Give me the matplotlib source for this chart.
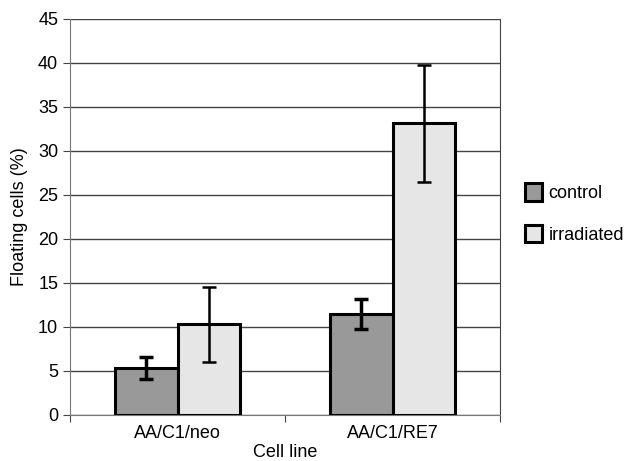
import matplotlib
matplotlib.use("Agg")
import matplotlib.pyplot as plt
import numpy as np

plt.rcParams['font.family'] = ['Liberation Sans', 'DejaVu Sans']

categories = ["AA/C1/neo", "AA/C1/RE7"]
series_names = ["control", "irradiated"]
control = [5.3, 11.5]
control_err_low = [4.1, 9.8]
control_err_high = [6.6, 13.2]
irradiated = [10.3, 33.2]
irr_err_low = [6.0, 26.5]
irr_err_high = [14.5, 39.8]
yticks = list(range(0, 50, 5))

FS = 13

fig = plt.figure(figsize=(6.25, 4.61), dpi=100)
ax = fig.add_axes([0.112, 0.0998, 0.688, 0.859])

x = np.arange(len(categories))
w = 0.29
c_err = [np.array(control) - np.array(control_err_low), np.array(control_err_high) - np.array(control)]
i_err = [np.array(irradiated) - np.array(irr_err_low), np.array(irr_err_high) - np.array(irradiated)]

ax.bar(x - w/2, control, w, color="#999999", edgecolor="black", linewidth=2.2, label=series_names[0], zorder=3)
ax.bar(x + w/2, irradiated, w, color="#e6e6e6", edgecolor="black", linewidth=2.2, label=series_names[1], zorder=3)
ax.errorbar(x - w/2, control, yerr=c_err, fmt="none", ecolor="black", elinewidth=2.5, capsize=4.7, capthick=2.5, zorder=4)
ax.errorbar(x + w/2, irradiated, yerr=i_err, fmt="none", ecolor="black", elinewidth=1.8, capsize=5, capthick=1.8, zorder=4)

ax.set_xlim(-0.5, 1.5)
ax.set_ylim(0, 45)
ax.set_yticks(yticks)
ax.yaxis.grid(True, color="#444444", linewidth=1, zorder=0)
ax.set_axisbelow(True)
ax.set_xticks([-0.5, 0.5, 1.5])
ax.set_xticklabels([])
ax.set_xticks(x, minor=True)
ax.set_xticklabels(categories, minor=True, fontsize=FS)
ax.tick_params(axis="x", which="minor", length=0, pad=7)
ax.tick_params(axis="x", which="major", length=5, color="#444444")
ax.tick_params(axis="y", length=5, color="#444444", labelsize=FS, pad=3.5)

for s in ["left", "bottom"]:
    ax.spines[s].set_color("#777777")
ax.spines["top"].set_visible(False)
ax.spines["right"].set_color("#444444")
ax.spines["right"].set_linewidth(0.8)

ax.set_ylabel("Floating cells (%)", fontsize=FS)
ax.yaxis.set_label_coords(-0.098, 0.5)
ax.set_xlabel("Cell line", fontsize=FS)
ax.xaxis.set_label_coords(0.5, -0.074)

leg = ax.legend(loc="center left", bbox_to_anchor=(1.058, 0.509), frameon=False, fontsize=FS,
                handlelength=0.95, handleheight=1.1, labelspacing=1.25, handletextpad=0.35,
                borderpad=0, borderaxespad=0)

fig.savefig("out.png", dpi=100)
